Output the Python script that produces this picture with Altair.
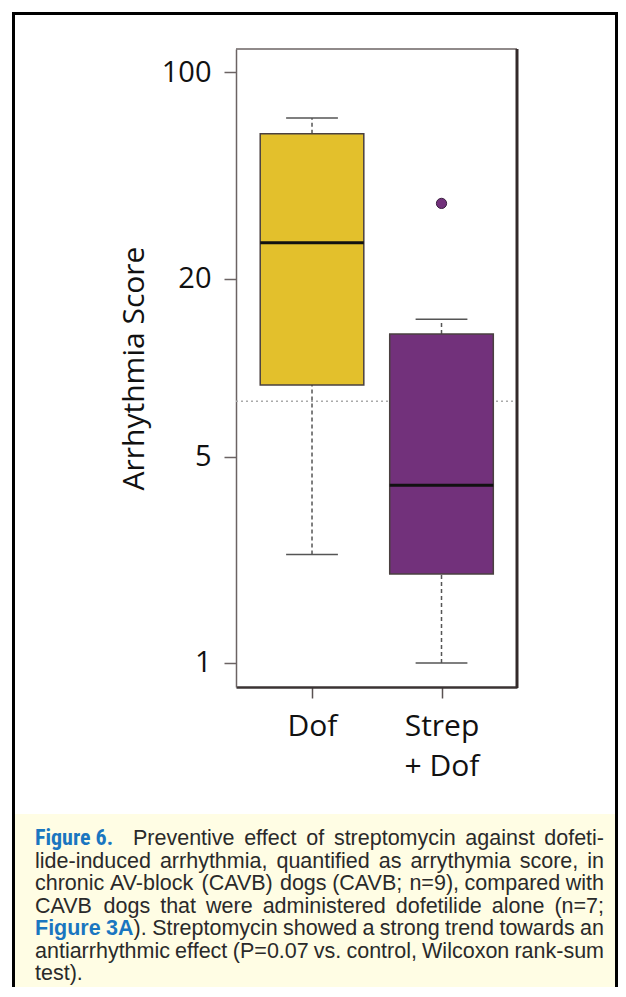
import altair as alt
import pandas as pd

# ---- data ----
groups = ["Dof", "Strep + Dof"]
positions = [1, 2]
whisker_low = [2.33, 1.0]
q1 = [8.73, 2.0]
median = [26.5, 4.0]
q3 = [62.0, 13.0]
whisker_high = [70.0, 14.6]
outlier_group = ["Strep + Dof"]
outlier_pos = [2]
outlier_value = [36.0]
reference_value = [7.7]
y_ticks = [1, 5, 20, 100]
x_label_lines = [["Dof"], ["Strep", "+ Dof"]]
fill_colors = ["#E3C02C", "#72317B"]

caption_label = "Figure 6."
caption_lines = [
    "Preventive effect of streptomycin against dofeti-",
    "lide-induced arrhythmia, quantified as arrythymia score, in",
    "chronic AV-block (CAVB) dogs (CAVB; n=9), compared with",
    "CAVB dogs that were administered dofetilide alone (n=7;",
    "Figure 3A). Streptomycin showed a strong trend towards an",
    "antiarrhythmic effect (P=0.07 vs. control, Wilcoxon rank-sum",
    "test).",
]
caption_link = "Figure 3A"

boxes = pd.DataFrame({
    "group": groups, "pos": positions, "lo": whisker_low, "q1": q1,
    "med": median, "q3": q3, "hi": whisker_high,
})
outliers = pd.DataFrame({"group": outlier_group, "pos": outlier_pos, "v": outlier_value})
refs = pd.DataFrame({"v": reference_value})

W, H = 281, 638
BOX_HALF = 0.4
CAP_HALF = 0.2

xs = alt.Scale(domain=[0.413, 2.583], nice=False, zero=False)
ys = alt.Scale(type="log", domain=[0.829, 120], nice=False)
cs = alt.Scale(domain=groups, range=fill_colors)

label_expr = "datum.value == 1 ? " + repr(x_label_lines[0][0]) + " : " + str(x_label_lines[1])

x_axis = alt.Axis(values=positions, labelExpr=label_expr, tickSize=11, tickWidth=1.5,
                  tickColor="#5a5252", domainColor="#3a3333", domainWidth=2.5,
                  labelFont="Open Sans", labelFontSize=30, labelColor="#111111",
                  labelPadding=13, labelLineHeight=40, labelBaseline="top",
                  grid=False, title=None)
y_axis = alt.Axis(values=y_ticks, format="d", tickSize=12, tickWidth=1.5,
                  tickColor="#6b6363", domainColor="#6b6363", domainWidth=1.5,
                  labelFont="Open Sans", labelFontSize=29, labelColor="#111111",
                  labelPadding=13, grid=False, title="Arrhythmia Score",
                  titleFont="Open Sans", titleFontSize=30, titleFontWeight="normal",
                  titleColor="#111111", titlePadding=12)

base = alt.Chart(boxes).transform_calculate(
    xl=f"datum.pos - {BOX_HALF}", xr=f"datum.pos + {BOX_HALF}",
    cl=f"datum.pos - {CAP_HALF}", cr=f"datum.pos + {CAP_HALF}",
)

def X(f):
    return alt.X(f, scale=xs, axis=x_axis)

def Y(f):
    return alt.Y(f, scale=ys, axis=y_axis)

rects = base.mark_rect(stroke="#4a4040", strokeWidth=1.5).encode(
    x=X("xl:Q"), x2="xr:Q", y=Y("q1:Q"), y2="q3:Q",
    color=alt.Color("group:N", scale=cs, legend=None),
)
medians = base.mark_rule(color="#111111", strokeWidth=3).encode(
    x=X("xl:Q"), x2="xr:Q", y=Y("med:Q"))
whisk_up = base.mark_rule(color="#555555", strokeWidth=1.5, strokeDash=[4, 3]).encode(
    x=X("pos:Q"), y=Y("q3:Q"), y2="hi:Q")
whisk_dn = base.mark_rule(color="#555555", strokeWidth=1.5, strokeDash=[4, 3]).encode(
    x=X("pos:Q"), y=Y("lo:Q"), y2="q1:Q")
cap_up = base.mark_rule(color="#555555", strokeWidth=1.5).encode(
    x=X("cl:Q"), x2="cr:Q", y=Y("hi:Q"))
cap_dn = base.mark_rule(color="#555555", strokeWidth=1.5).encode(
    x=X("cl:Q"), x2="cr:Q", y=Y("lo:Q"))
outlier_pts = alt.Chart(outliers).mark_circle(size=105, opacity=1, stroke="#3b2040",
                                              strokeWidth=1).encode(
    x=X("pos:Q"), y=Y("v:Q"),
    color=alt.Color("group:N", scale=cs, legend=None),
)
ref_line = alt.Chart(refs).mark_rule(color="#aaaaaa", strokeWidth=1.5, strokeDash=[2, 3]).encode(
    y=Y("v:Q"), x=alt.value(0), x2=alt.value(W))

one = pd.DataFrame({"k": [0]})
top_line = alt.Chart(one).mark_rule(color="#6b6363", strokeWidth=1.5).encode(
    x=alt.value(0), x2=alt.value(W), y=alt.value(0))
right_line = alt.Chart(one).mark_rule(color="#332a2a", strokeWidth=3).encode(
    x=alt.value(W), y=alt.value(0), y2=alt.value(H + 1))

# ---- figure frame and caption panel (pixel offsets relative to the plot origin) ----
caption_bg = alt.Chart(one).mark_rect(fill="#FFFDE4").encode(
    x=alt.value(-221), x2=alt.value(379), y=alt.value(765), y2=alt.value(1000))
frame = alt.Chart(one).mark_rect(fill="transparent", stroke="#000000", strokeWidth=3).encode(
    x=alt.value(-222.5), x2=alt.value(380.5), y=alt.value(-35.5), y2=alt.value(1010))

# justified caption: word placement from Helvetica/Arial advance widths
REG = {' ': 278, '(': 333, ')': 333, ',': 278, '-': 333, '.': 278, ';': 278, '=': 584,
       'A': 667, 'B': 667, 'C': 722, 'D': 722, 'F': 611, 'P': 667, 'S': 667, 'V': 667,
       'W': 944, 'a': 556, 'b': 556, 'c': 500, 'd': 556, 'e': 556, 'f': 278, 'g': 556,
       'h': 556, 'i': 222, 'j': 222, 'k': 500, 'l': 222, 'm': 833, 'n': 556, 'o': 556,
       'p': 556, 'q': 556, 'r': 333, 's': 500, 't': 278, 'u': 556, 'v': 500, 'w': 722,
       'x': 500, 'y': 500, 'z': 500}
BOLD = {' ': 278, 'F': 611, 'i': 278, 'g': 611, 'u': 611, 'r': 389, 'e': 556, 'A': 722}
FS = 21.5


def tw(text, table):
    return sum(table.get(c, 556) for c in text) / 1000 * FS


LEFT, LEFT1, RIGHT = -201, -103, 368
BASE_Y, LH = 796, 22.5
body_rows, link_rows = [], []
for i, line in enumerate(caption_lines):
    y = BASE_Y + i * LH
    justify = i < len(caption_lines) - 1
    left = LEFT1 if i == 0 else LEFT
    words = line.split(" ")
    pieces = []  # list of word -> list of (text, style)
    if line.startswith(caption_link):
        rest = line[len(caption_link):]
        first_rest, _, tail = rest.partition(" ")
        pieces.append([(caption_link.split(" ")[0], "link")])
        pieces.append([(caption_link.split(" ")[1], "link"), (first_rest, "body")])
        pieces += [[(wd, "body")] for wd in tail.split(" ")]
    else:
        pieces = [[(wd, "body")] for wd in words]
    widths = [sum(tw(t, BOLD if s == "link" else REG) for t, s in wd) for wd in pieces]
    gap = (RIGHT - left - sum(widths)) / (len(pieces) - 1) if justify else tw(" ", REG)
    x = left
    for wd, wdw in zip(pieces, widths):
        px = x
        for t, s in wd:
            row = {"t": t, "px": px, "py": y}
            (link_rows if s == "link" else body_rows).append(row)
            px += tw(t, BOLD if s == "link" else REG)
        x += wdw + gap

body_df = pd.DataFrame(body_rows)
link_df = pd.DataFrame(link_rows)

body_text = alt.Chart(body_df).mark_text(
    align="left", baseline="alphabetic", font="Liberation Sans", fontSize=FS,
    color="#2a2a2a").encode(
    x=alt.X("px:Q", scale=None, axis=None), y=alt.Y("py:Q", scale=None, axis=None),
    text="t:N")
link_text = alt.Chart(link_df).mark_text(
    align="left", baseline="alphabetic", font="Liberation Sans", fontSize=FS,
    fontWeight="bold", color="#1a76c0").encode(
    x=alt.X("px:Q", scale=None, axis=None), y=alt.Y("py:Q", scale=None, axis=None),
    text="t:N")
fig_label = alt.Chart(pd.DataFrame({"t": [caption_label]})).mark_text(
    align="left", baseline="alphabetic",
    font="Roboto Condensed, Noto Sans Condensed, Roboto, sans-serif", fontSize=22,
    fontWeight="bold", color="#1a76c0").encode(
    x=alt.value(LEFT), y=alt.value(BASE_Y), text="t:N")

chart = alt.layer(
    caption_bg, frame, ref_line, whisk_up, whisk_dn, cap_up, cap_dn, rects, medians,
    outlier_pts, top_line, right_line, fig_label, body_text, link_text,
).properties(
    width=W, height=H,
    autosize=alt.AutoSizeParams(type="none"),
    padding={"left": 228, "top": 41, "right": 101, "bottom": 300},
    background="white",
).configure_view(stroke=None)

chart.save("out.html", embed_options={"renderer": "svg", "actions": False})
